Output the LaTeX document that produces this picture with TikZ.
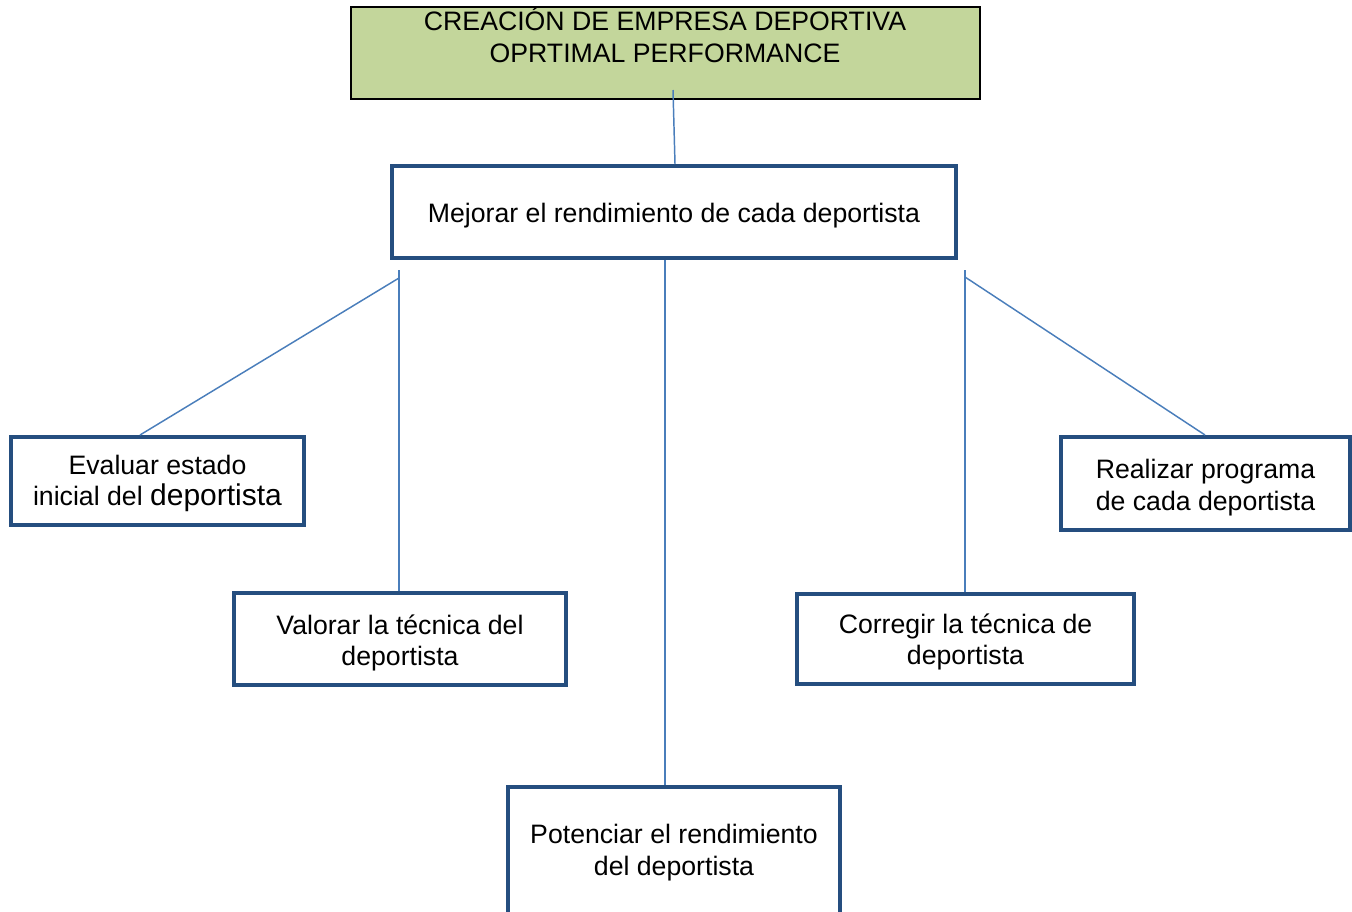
\documentclass[tikz,border=0pt]{standalone}
\usepackage{fontspec}
\setmainfont{Liberation Sans}
\definecolor{boxblue}{HTML}{254E7F}
\definecolor{linkblue}{HTML}{4A7EBB}
\definecolor{titlegreen}{HTML}{C3D69B}
\begin{document}
\begin{tikzpicture}[x=0.75pt,y=-0.75pt,
  box/.style={draw=boxblue,line width=3pt,fill=white,inner sep=0pt},
  titlebox/.style={draw=black,line width=1.5pt,fill=titlegreen,inner sep=0pt},
  txt/.style={align=center,inner sep=0pt,font=\fontsize{20}{23.5}\selectfont},
  link/.style={draw=linkblue,line width=1.1pt}]
\useasboundingbox (0,0) rectangle (1352,911);
% title
\node[titlebox,minimum width=629*0.75pt,minimum height=92*0.75pt] (title) at (665.5,53) {};
\node[txt,anchor=north] (titletxt) at (665,7.5) {CREACIÓN DE EMPRESA DEPORTIVA\\OPRTIMAL PERFORMANCE};
% main
\node[box,minimum width=564*0.75pt,minimum height=92*0.75pt] (main) at (674,212) {};
\node[txt] (maintxt) at (674,216) {Mejorar el rendimiento de cada deportista};
% children
\node[box,minimum width=293*0.75pt,minimum height=88*0.75pt] (eval) at (157.5,481) {};
\node[txt] (evaltxt) at (157.5,483.5)
  {Evaluar estado\\inicial del {\fontsize{22.5}{23.5}\selectfont deportista}};
\node[box,minimum width=332*0.75pt,minimum height=92*0.75pt] (valor) at (400,639) {};
\node[txt] (valortxt) at (400,643) {Valorar la técnica del\\deportista};
\node[box,minimum width=337*0.75pt,minimum height=90*0.75pt] (corr) at (965.5,639) {};
\node[txt] (corrtxt) at (965.5,642) {Corregir la técnica de\\deportista};
\node[box,minimum width=289*0.75pt,minimum height=93*0.75pt] (real) at (1205.5,483.5) {};
\node[txt] (realtxt) at (1205.5,487.5) {Realizar programa\\de cada deportista};
\node[box,minimum width=332*0.75pt,minimum height=215*0.75pt,anchor=north] (pot) at (674,785) {};
\node[txt] (pottxt) at (674,852.5) {Potenciar el rendimiento\\del deportista};
% connector ends
\coordinate (t0) at (673,90);
\coordinate (lv) at (399,270);
\coordinate (ld) at (399,278);
\coordinate (rv) at (965,270);
\coordinate (rd) at (965,277);
\path[link] (t0) -- (675,164 |- main.north);
\path[link] (lv) -- (lv |- valor.north);
\path[link] (ld) -- (140,0 |- eval.north);
\path[link] (665,0 |- main.south) -- (665,0 |- pot.north);
\path[link] (rv) -- (rv |- corr.north);
\path[link] (rd) -- (1205,0 |- real.north);
\end{tikzpicture}
\end{document}
